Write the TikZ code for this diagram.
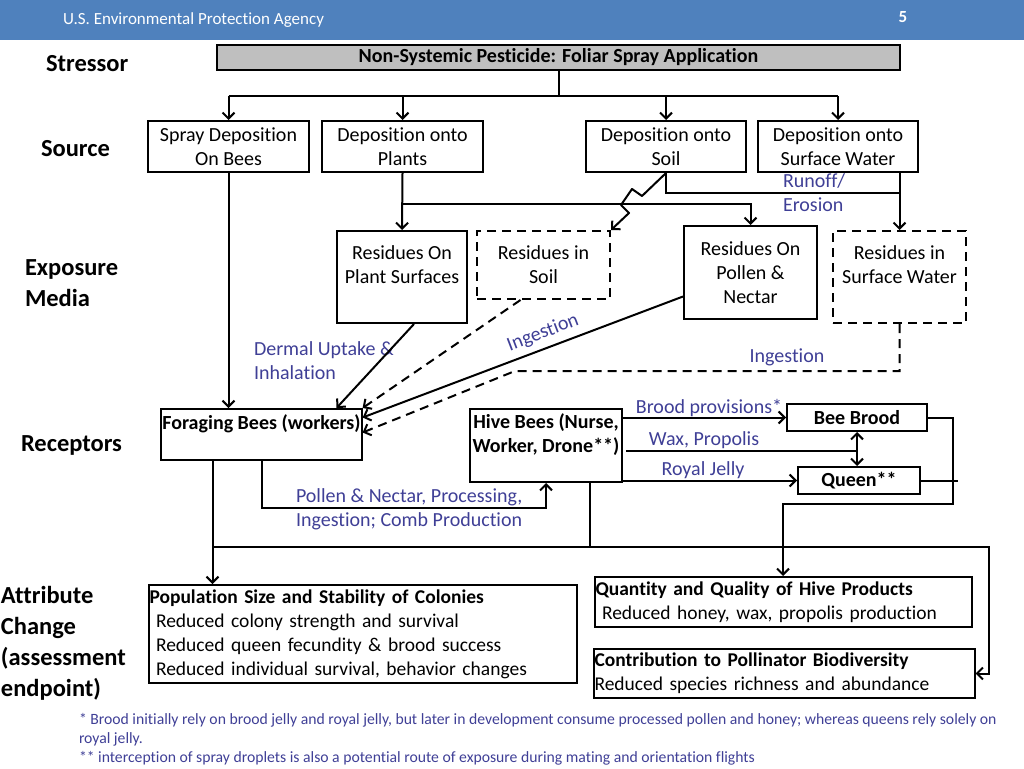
\documentclass[tikz,border=0pt]{standalone}
\usepackage{fontspec}
\setmainfont{Carlito}[Ligatures=NoCommon]
\usetikzlibrary{arrows.meta}

\definecolor{bandblue}{RGB}{79,129,189}
\definecolor{pathblue}{RGB}{63,63,150}
\newcommand{\boxfont}{\fontsize{20}{24}\selectfont}
\newcommand{\goalfont}{\fontsize{19.5}{24}\selectfont}
\newcommand{\tierfont}{\fontsize{24.5}{31}\selectfont\bfseries}

\begin{document}
\begin{tikzpicture}[x=1pt,y=-1pt,>={Straight Barb[length=6pt,width=12pt]},line width=2pt,
    box/.style={draw,line width=2pt,inner sep=1pt,align=center,font=\boxfont},
    dashbox/.style={box,dash pattern=on 9pt off 6pt},
    boldbox/.style={box,font=\boxfont\bfseries},
    goalbox/.style={box,align=left,font=\goalfont},
    dashline/.style={dash pattern=on 9pt off 6pt},
    tier/.style={anchor=west,inner sep=0pt,align=left,font=\tierfont},
    route/.style={text=pathblue,font=\boxfont,align=left}]

  \useasboundingbox (0,0) rectangle (1024,768);
  \fill[bandblue] (0,0) rectangle (1024,40);
  \node[anchor=west,inner sep=0pt,text=white,font=\fontsize{17}{20}\selectfont] (agency) at (62,20) {U.S. Environmental Protection Agency};
  \node[text=white,font=\fontsize{17}{20}\selectfont\bfseries] (page) at (903,17) {5};

  % row labels
  \node[tier] (stressorlbl) at (45,64) {Stressor};
  \node[tier] (sourcelbl) at (40,149) {Source};
  \node[tier] (medialbl) at (24,283) {Exposure\\Media};
  \node[tier] (receptlbl) at (20,445) {Receptors};
  \node[tier] (attriblbl) at (0,643) {Attribute\\Change\\(assessment\\endpoint)};

  % stressor and sources
  \node[box,fill=black!25,minimum width=683pt,minimum height=25pt,font=\fontsize{20}{22}\selectfont\bfseries] (spray) at (558.5,57.5) {Non-Systemic Pesticide: Foliar Spray Application};
  \node[box,minimum width=161pt,minimum height=51pt] (onbees) at (228.5,146.5) {Spray Deposition\\On Bees};
  \node[box,minimum width=161pt,minimum height=51pt] (onplants) at (402.5,146.5) {Deposition onto\\Plants};
  \node[box,minimum width=160pt,minimum height=51pt] (onsoil) at (666,146.5) {Deposition onto\\Soil};
  \node[box,minimum width=160pt,minimum height=51pt] (onwater) at (838,146.5) {Deposition onto\\Surface Water};

  % exposure media
  \node[box,minimum width=130pt,minimum height=92pt] (plantres) at (402,277) {Residues On\\Plant Surfaces\\\mbox{}};
  \node[dashbox,minimum width=133pt,minimum height=68pt] (soilres) at (543.5,265) {Residues in\\Soil};
  \node[box,minimum width=133pt,minimum height=93pt] (pollenres) at (750.5,272.5) {Residues On\\Pollen \&\\Nectar};
  \node[dashbox,minimum width=133pt,minimum height=92pt] (waterres) at (899.5,277) {Residues in\\Surface Water\\\mbox{}};

  % receptors
  \node[boldbox,minimum width=199pt,minimum height=51pt] (foragers) at (261.5,434.5) {Foraging Bees (workers)\\\mbox{}};
  \node[boldbox,minimum width=152pt,minimum height=73pt] (hivebees) at (546,445.5) {Hive Bees (Nurse,\\Worker, Drone**)\\\mbox{}};
  \node[boldbox,minimum width=140pt,minimum height=27pt] (brood) at (857,417.5) {Bee Brood};
  \node[boldbox,minimum width=122pt,minimum height=27pt] (queen) at (859,480.5) {Queen**};

  % assessment endpoints
  \node[goalbox,text width=426pt,minimum height=98pt] (colonies) at (362.5,634) {\textbf{Population Size and Stability of Colonies}\\~Reduced colony strength and survival\\~Reduced queen fecundity \& brood success\\~Reduced individual survival, behavior changes};
  \node[goalbox,text width=375pt,minimum height=50pt] (products) at (783,602) {\textbf{Quantity and Quality of Hive Products}\\~Reduced honey, wax, propolis production};
  \node[goalbox,text width=379pt,minimum height=49pt] (biodiv) at (784,673.5) {\textbf{Contribution to Pollinator Biodiversity}\\Reduced species richness and abundance};

  % route labels
  \node[route,anchor=west,inner sep=0pt] (runoff) at (782,193) {Runoff/\\Erosion};
  \node[route,anchor=west,inner sep=0pt] (dermal) at (253,361) {Dermal Uptake \&\\Inhalation};
  \node[route,rotate=21,inner sep=0pt] (ingestA) at (543,333) {Ingestion};
  \node[route] (ingestB) at (787,357) {Ingestion};
  \node[route] (provlbl) at (709,408) {Brood provisions*};
  \node[route] (waxlbl) at (704,440) {Wax, Propolis};
  \node[route] (jellylbl) at (703,470) {Royal Jelly};
  \node[route,anchor=west,inner sep=0pt] (comblbl) at (295,509) {Pollen \& Nectar, Processing,\\Ingestion; Comb Production};

  \node[anchor=west,inner sep=0pt,align=left,text=pathblue,font=\fontsize{15.7}{19}\selectfont] (notes) at (78,739)
    {* Brood initially rely on brood jelly and royal jelly, but later in development consume processed pollen and honey; whereas queens rely solely on\\royal jelly.\\** interception of spray droplets is also a potential route of exposure during mating and orientation flights};

  % stressor to sources
  \coordinate (fork) at (558.5,96);
  \draw (spray.south) -- (fork);
  \draw (onbees.north |- fork) -- (onwater.north |- fork);
  \foreach \src in {onbees,onplants,onsoil,onwater}
    \draw[->] (\src.north |- fork) -- (\src.north);

  % sources to media
  \coordinate (plantfork) at (402.5,204);
  \coordinate (runoffjoin) at (899.5,193);
  \draw[->] (onbees.south) -- (onbees.south |- foragers.north);
  \draw[->] (onplants.south) -- (plantres.north);
  \draw[->] (plantfork) -| (pollenres.north);
  \draw (onsoil.south) |- (runoffjoin);
  \draw[->] (waterres.north |- onwater.south) -- (waterres.north);
  \draw[->,line join=round] (onsoil.south) -- ++(-24,23) -- ++(-10,-7) -- ++(-11,16) -- ++(8,8) -- (soilres.north east);

  % media to foragers
  \coordinate (wetbend) at (515,371);
  \draw[->] ([xshift=12pt]plantres.south) -- ([xshift=75pt]foragers.north);
  \draw[->,dashline] ([xshift=-23pt]soilres.south) -- (foragers.north east);
  \draw[->] ([yshift=-24pt]pollenres.west) -- ([yshift=17pt]foragers.east);
  \draw[->,dashline] (waterres.south) |- (wetbend) -- ([yshift=2pt]foragers.east);

  % within the hive
  \coordinate (waxstart) at (626,451);
  \coordinate (loopturn) at (953,504);
  \draw[->] (hivebees.east |- brood.west) -- (brood.west);
  \draw[->] (hivebees.east |- queen.west) -- (queen.west);
  \draw (waxstart) -- (brood.south |- waxstart);
  \draw[<->] (brood.south) -- (brood.south |- queen.north);
  \draw[->] (brood.east) -| (loopturn) -| (products.north);
  \draw (queen.east) -- ++(37,0);

  % receptors to endpoints
  \coordinate (busL) at (212.5,547);
  \coordinate (busR) at (989,547);
  \draw[->] ([xshift=-49pt]foragers.south) -- ([xshift=-49pt]foragers.south |- colonies.north);
  \draw[->] (foragers.south) -- ++(0,47) -| (hivebees.south);
  \draw ([xshift=44pt]hivebees.south) -- ([xshift=44pt]hivebees.south |- busL);
  \draw[->] (busL) -- (busR) |- (biodiv.east);

\end{tikzpicture}
\end{document}
